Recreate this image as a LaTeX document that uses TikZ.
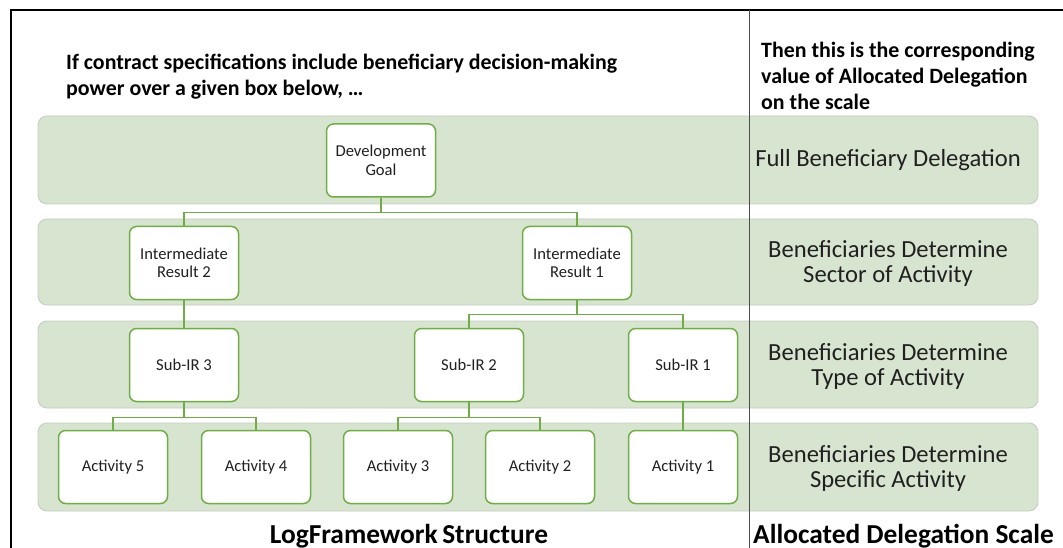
\documentclass[tikz,border=0pt]{standalone}
\usepackage{fontspec}
\setmainfont{Carlito}
\definecolor{bandfill}{HTML}{D7E4CF}
\definecolor{bandedge}{HTML}{C4CCC0}
\definecolor{boxgreen}{HTML}{70AD47}
\definecolor{boxtext}{HTML}{202020}
\begin{document}
\begin{tikzpicture}[x=1pt,y=-1pt,
  band/.style={fill=bandfill, draw=bandedge, line width=0.8pt, rounded corners=9pt},
  box/.style={draw=boxgreen, line width=1.5pt, fill=white, rounded corners=7pt,
    minimum width=109pt, minimum height=73pt, inner sep=0pt, align=center,
    text=boxtext, font=\fontsize{16.6}{18.5}\selectfont},
  link/.style={draw=boxgreen, line width=1.5pt},
  scalelabel/.style={align=center, text=boxtext, font=\fontsize{24.6}{25}\selectfont},
  header/.style={align=left, anchor=north west, inner sep=0pt, font=\bfseries\fontsize{21.9}{26}\selectfont},
  title/.style={inner sep=0pt, font=\bfseries\fontsize{27.4}{30}\selectfont}]
\useasboundingbox (0,0) rectangle (1063,548);
\fill[white] (0,0) rectangle (1063,548);

% horizontal bands, one per level of the framework
\draw[band] (38,116) rectangle (1038,204);
\draw[band] (38,219) rectangle (1038,305);
\draw[band] (38,321) rectangle (1038,408);
\draw[band] (38,423) rectangle (1038,511);

% outer frame and column divider
\draw[black, line width=1.6pt] (11,548) -- (11,10) -- (1063,10);
\draw[black!70, line width=0.8pt] (749,10) -- (749,548);

% headers
\node[header] (hl) at (66,54) {If contract specifications include beneficiary decision-making\\power over a given box below, \dots};
\node[header] (hr) at (761,42) {Then this is the corresponding\\value of Allocated Delegation\\on the scale};

% tree boxes
\node[box] (dg)  at (381,160.5) {Development\\Goal};
\node[box] (ir2) at (184,263) {Intermediate\\Result 2};
\node[box] (ir1) at (577,263) {Intermediate\\Result 1};
\node[box] (s3)  at (184,365) {Sub-IR 3};
\node[box] (s2)  at (469,365) {Sub-IR 2};
\node[box] (s1)  at (683,365) {Sub-IR 1};
\node[box] (a5)  at (113,467) {Activity 5};
\node[box] (a4)  at (256,467) {Activity 4};
\node[box] (a3)  at (398,467) {Activity 3};
\node[box] (a2)  at (540,467) {Activity 2};
\node[box] (a1)  at (683,467) {Activity 1};

% connectors
\draw[link] (dg.south) -- ++(0,15) -| (ir2.north);
\draw[link] (dg.south) -- ++(0,15) -| (ir1.north);
\draw[link] (ir2.south) -- (s3.north);
\draw[link] (ir1.south) -- ++(0,14) -| (s2.north);
\draw[link] (ir1.south) -- ++(0,14) -| (s1.north);
\draw[link] (s3.south) -- ++(0,15) -| (a5.north);
\draw[link] (s3.south) -- ++(0,15) -| (a4.north);
\draw[link] (s2.south) -- ++(0,15) -| (a3.north);
\draw[link] (s2.south) -- ++(0,15) -| (a2.north);
\draw[link] (s1.south) -- (a1.north);

% delegation scale labels
\node[scalelabel] (l1) at (888,160) {Full Beneficiary Delegation};
\node[scalelabel] (l2) at (888,263) {Beneficiaries Determine\\Sector of Activity};
\node[scalelabel] (l3) at (888,366) {Beneficiaries Determine\\Type of Activity};
\node[scalelabel] (l4) at (888,468) {Beneficiaries Determine\\Specific Activity};

% column titles
\node[title, anchor=base] (t1) at (409,543) {LogFramework\,Structure};
\node[title, anchor=base west] (t2) at (753,543) {Allocated Delegation Scale};
\end{tikzpicture}
\end{document}
